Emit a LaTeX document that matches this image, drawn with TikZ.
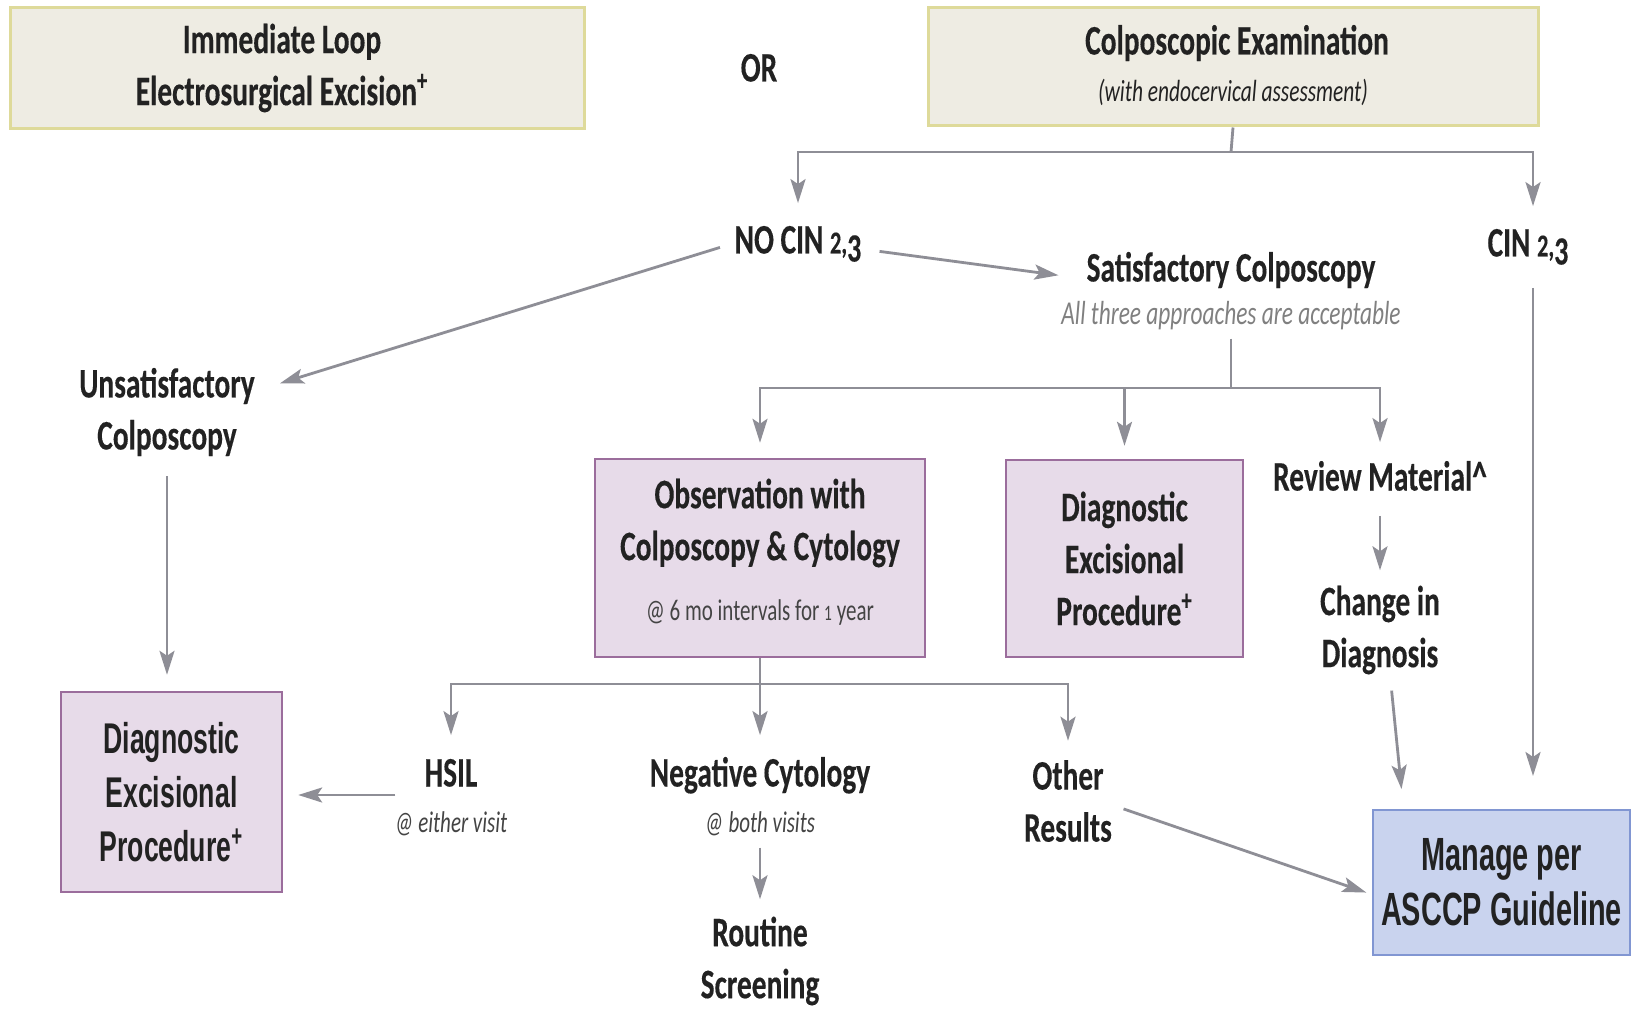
\documentclass[tikz,border=0pt]{standalone}
\usepackage{fontspec}
\setmainfont{Carlito}[FakeStretch=0.70, BoldFeatures={FakeBold=0.25}]
\newfontfamily\gridfont{Liberation Sans}[FakeStretch=0.62]
\usetikzlibrary{arrows.meta}

\definecolor{inkc}{HTML}{222222}
\definecolor{linkc}{HTML}{8E8E96}
\definecolor{topfill}{HTML}{EEECE3}
\definecolor{topedge}{HTML}{DEDA9A}
\definecolor{purfill}{HTML}{E7DBE9}
\definecolor{puredge}{HTML}{9B6D9C}
\definecolor{bluefill}{HTML}{C9D3EE}
\definecolor{blueedge}{HTML}{8196D2}
\definecolor{notec}{HTML}{808080}
\definecolor{subc}{HTML}{444444}

\tikzset{
  lbl/.style={text=inkc, font=\fontsize{21}{26}\selectfont\bfseries, align=center, inner sep=0pt},
  one/.style={text height=15pt, text depth=4.5pt},
  subnote/.style={text=subc, font=\fontsize{15}{18}\selectfont\itshape, inner sep=0pt},
  topbox/.style={draw=topedge, line width=1.5pt, fill=topfill, inner sep=0pt},
  purbox/.style={draw=puredge, line width=1.2pt, fill=purfill, inner sep=0pt},
  bluebox/.style={draw=blueedge, line width=1pt, fill=bluefill, inner sep=0pt},
  link/.style={draw=linkc, line width=1.4pt},
  arrow/.style={link, -{Stealth[length=12pt,width=7.5pt,inset=2.5pt]}},
}

% old-style looking figures for the CIN grade
\newcommand{\cinnum}{{\fontsize{16}{18}\selectfont 2,}\raisebox{-4pt}{\fontsize{20}{22}\selectfont 3}}

\begin{document}
\begin{tikzpicture}[x=0.5pt, y=-0.5pt]
  \useasboundingbox[fill=white] (0,0) rectangle (1636,1010);

  % top row
  \node[topbox, minimum width=287pt, minimum height=60.5pt] (leep) at (297,68.5) {};
  \node[lbl] (leeptext) at (282,68) {Immediate Loop\\Electrosurgical Excision\textsuperscript{+}};
  \node[lbl, one] (or) at (759,71) {OR};
  \node[topbox, minimum width=305pt, minimum height=59pt] (colpo) at (1233,67) {};
  \node[lbl, one] (colpotitle) at (1237,44) {Colposcopic Examination};
  \node[text=inkc, font=\fontsize{15.3}{18}\selectfont\itshape, inner sep=0pt] (colponote) at (1233,92)
    {(with endocervical assessment)};

  % first split
  \node[lbl, one] (nocin) at (798,243) {NO CIN \cinnum};
  \node[lbl, one] (cin) at (1528,246) {CIN \cinnum};
  \coordinate (b1) at (1231,152);
  \draw[link] (colpo.south) -- (b1);
  \draw[arrow, shorten >=10pt] (b1) -| (nocin.north);
  \draw[arrow, shorten >=10pt] (b1) -| ([xshift=2.5pt]cin.north);

  % satisfactory / unsatisfactory
  \node[lbl, one] (sat) at (1231,271) {Satisfactory Colposcopy};
  \node[text=notec, font=\fontsize{16.7}{19}\selectfont\itshape, inner sep=0pt] (satnote) at (1231,316)
    {All three approaches are acceptable};
  \node[lbl] (unsat) at (167,412) {Unsatisfactory\\Colposcopy};
  \draw[arrow, shorten <=9pt, shorten >=14pt] ([yshift=-3pt]nocin.east) -- ([yshift=-4pt]sat.west);
  \draw[arrow, shorten <=7.5pt, shorten >=13pt] (nocin.west) -- ([yshift=10.5pt]unsat.east);

  % satisfactory branches
  \node[purbox, minimum width=165pt, minimum height=99pt] (obs) at (760,558) {};
  \node[lbl] (obstitle) at (760,523) {Observation with\\Colposcopy \& Cytology};
  \node[text=subc, font=\fontsize{15}{18}\selectfont, inner sep=0pt] (obsnote) at (760,612)
    {@ 6 mo intervals for {\fontsize{11}{13}\selectfont 1} year};
  \node[purbox, lbl, minimum width=118.5pt, minimum height=98.5pt] (dep2) at (1124.5,558.5)
    {Diagnostic\\Excisional\\Procedure\textsuperscript{+}};
  \node[lbl, one] (review) at (1380,480) {Review Material\^{}};
  \node[lbl] (change) at (1380,630) {Change in\\Diagnosis};
  \coordinate (b2) at (1231,388);
  \draw[link, shorten <=4pt] (satnote.south) -- (b2);
  \draw[arrow, shorten >=7.5pt] (b2) -| (obs.north);
  \draw[arrow, shorten >=6.5pt] (b2) -| (dep2.north);
  \draw[arrow, shorten >=9pt] (b2) -| (review.north);
  \draw[arrow, shorten <=8pt, shorten >=7.5pt] (review.south) -- (change.north);

  % management box
  \node[bluebox, lbl, font=\fontsize{23.3}{27.5}\selectfont\gridfont\bfseries,
        minimum width=128.5pt, minimum height=72.5pt] (manage) at (1501.5,882.5)
    {Manage per\\ASCCP Guideline};
  \draw[arrow, shorten <=8pt, shorten >=10pt] ([xshift=5pt]change.south) -- ([xshift=-49pt]manage.north);
  \draw[arrow, shorten <=11pt, shorten >=16.5pt] ([xshift=2.5pt]cin.south) -- ([xshift=2.5pt]cin.south |- manage.north);

  % unsatisfactory branch
  \node[purbox, lbl, font=\fontsize{21.5}{27}\selectfont\gridfont\bfseries,
        minimum width=110.5pt, minimum height=100pt] (dep1) at (171.5,792)
    {Diagnostic\\Excisional\\Procedure\textsuperscript{+}};
  \draw[arrow, shorten <=10pt, shorten >=8pt] (unsat.south) -- (unsat.south |- dep1.north);

  % observation outcomes
  \node[lbl, one] (hsil) at (451,776) {HSIL};
  \node[subnote] (hsilnote) at (451,824) {@ either visit};
  \node[lbl, one] (neg) at (760,776) {Negative Cytology};
  \node[subnote] (negnote) at (760,824) {@ both visits};
  \node[lbl] (other) at (1068,801) {Other\\Results};
  \node[lbl] (routine) at (760,961) {Routine\\Screening};
  \coordinate (b3) at (760,684);
  \draw[link] (obs.south) -- (b3);
  \draw[arrow, shorten >=10.5pt] (b3) -| (hsil.north);
  \draw[arrow, shorten >=10.5pt] (b3) -- (neg.north);
  \draw[arrow, shorten >=9.5pt] (b3) -| (other.north);
  \draw[arrow, shorten <=14.5pt, shorten >=7.5pt] ([yshift=-9.5pt]hsil.west) -- ([yshift=-9.5pt]hsil.west -| dep1.east);
  \draw[arrow, shorten <=5.5pt, shorten >=8.5pt] (negnote.south) -- (routine.north);
  \draw[arrow, shorten <=6pt, shorten >=3pt] ([yshift=-2pt]other.east) -- ([yshift=-6pt]manage.west);
\end{tikzpicture}
\end{document}
